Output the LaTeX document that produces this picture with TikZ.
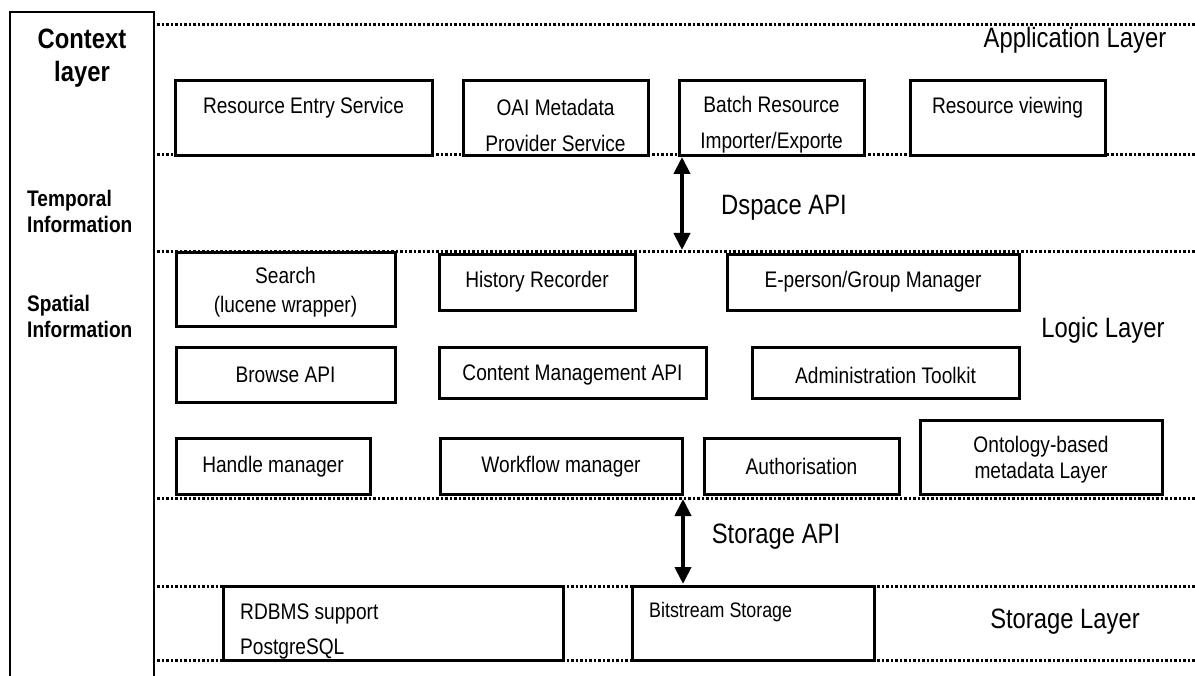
\documentclass[tikz,border=0pt]{standalone}
\usepackage{fontspec}
\setmainfont{Liberation Sans}[FakeStretch=0.85]
\usetikzlibrary{arrows.meta}
\def\blockbox[#1](#2,#3)(#4,#5){\node[box, minimum width={(#4-#2)*1pt}, minimum height={(#5-#3)*1pt}] (#1) at ({(#2+#4)/2},{(#3+#5)/2}) {};}
\tikzset{
	box/.style={draw=black, line width=3pt, fill=white, inner sep=0pt, outer sep=0pt},
	boxtext/.style={font=\fontsize{22.5}{#1}\selectfont, align=center, inner sep=0pt},
	boxtext/.default=27,
	layertext/.style={font=\fontsize{28}{33}\selectfont, align=center, inner sep=0pt},
	sidetext/.style={font=\bfseries\fontsize{22.5}{26}\selectfont, align=left, anchor=west, inner sep=0pt},
	sep/.style={line width=3pt, dash pattern=on 2.5pt off 2pt},
	api/.style={line width=4pt, {Triangle[length=17pt,width=16pt]}-{Triangle[length=17pt,width=16pt]}},
}
\begin{document}
\begin{tikzpicture}[x=1pt, y=-1pt]
		%%%%% START %%%%%
		\useasboundingbox (0,0) rectangle (1195,676);
		\fill[white] (0,0) rectangle (1195,676);
		
		% context column
		\draw[line width=2.2pt] (10,690) -- (10,12) -- (154,12) -- (154,690);
		\node[layertext, font=\bfseries\fontsize{28}{33}\selectfont] (ctx) at (82,58) {Context\\layer};
		\node[sidetext] (temporal) at (27,211) {Temporal\\Information};
		\node[sidetext] (spatial) at (27,316) {Spatial\\Information};
		
		% layer separators
		\foreach \y in {25,155,252,498,586,660}
			\draw[sep] (157,\y) -- (1195,\y);
		
		% application layer
		\blockbox[res](175,81)(432,156)
		\blockbox[oai](463,81)(648,156)
		\blockbox[batch](679,81)(864,156)
		\blockbox[view](910,81)(1105,156)
		\node[boxtext] (resT) at (303.5,108) {Resource Entry Service};
		\node[boxtext=36] (oaiT) at (555.5,125) {OAI Metadata\\Provider Service};
		\node[boxtext=36] (batchT) at (771.5,125) {Batch Resource\\Importer/Exporte};
		\node[boxtext] (viewT) at (1007.5,108) {Resource viewing};
		\node[layertext] (appL) at (1075,40) {Application Layer};
		
		% dspace api
		\coordinate (dsTop) at (682,157);
		\coordinate (dsBot) at (682,250);
		\draw[api] (dsTop) -- (dsBot);
		\node[layertext] (dsL) at (784,208) {Dspace API};
		
		% logic layer
		\blockbox[search](176,253)(395,327)
		\blockbox[hist](439,255)(635,311)
		\blockbox[eperson](727,255)(1019,311)
		\node[boxtext=29] (searchT) at (285.5,292) {Search\\(lucene wrapper)};
		\node[boxtext] (histT) at (537,282) {History Recorder};
		\node[boxtext] (epersonT) at (873,282) {E-person/Group Manager};
		
		\blockbox[browse](176,348)(395,403)
		\blockbox[content](439,348)(706,399)
		\blockbox[admin](752,348)(1019,399)
		\node[boxtext] (browseT) at (285.5,375) {Browse API};
		\node[boxtext] (contentT) at (572.5,375) {Content Management API};
		\node[boxtext] (adminT) at (885.5,375) {Administration Toolkit};
		
		\blockbox[handle](176,439)(370,494)
		\blockbox[workflow](440,439)(682,494)
		\blockbox[auth](704,439)(899,494)
		\blockbox[onto](920,421)(1162,494)
		\node[boxtext] (handleT) at (273,467) {Handle manager};
		\node[boxtext] (workflowT) at (561,467) {Workflow manager};
		\node[boxtext] (authT) at (801.5,466) {Authorisation};
		\node[boxtext=26] (ontoT) at (1041,460) {Ontology-based\\metadata Layer};
		\node[layertext] (logicL) at (1103,330) {Logic Layer};
		
		% storage api
		\coordinate (stTop) at (683,499);
		\coordinate (stBot) at (683,584);
		\draw[api] (stTop) -- (stBot);
		\node[layertext] (stL) at (776,537) {Storage API};
		
		% storage layer
		\blockbox[rdbms](223,586)(563,660)
		\blockbox[bits](632,586)(874,660)
		\node[boxtext=35, align=left, anchor=west] (rdbmsT) at (240,631) {RDBMS support\\PostgreSQL};
		\node[boxtext, anchor=west, font=\fontsize{21}{25}\selectfont] (bitsT) at (649,612) {Bitstream Storage};
		\node[layertext] (storeL) at (1065,622) {Storage Layer};
		%%%%% END %%%%%
\end{tikzpicture}
\end{document}
